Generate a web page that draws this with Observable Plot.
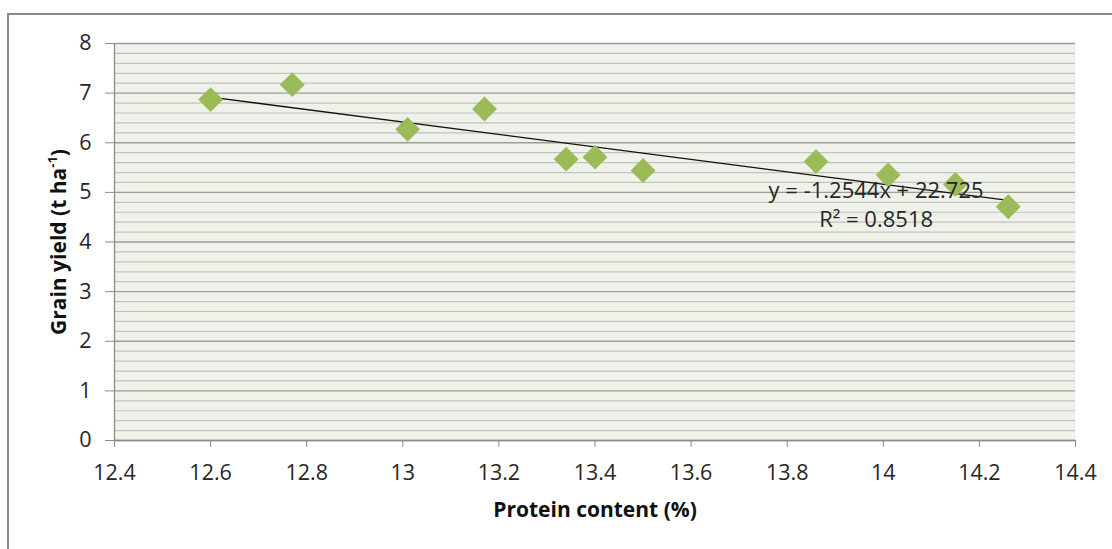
<!DOCTYPE html>
<html><head><meta charset="utf-8">
<script src="https://cdn.jsdelivr.net/npm/d3@7"></script>
<script src="https://cdn.jsdelivr.net/npm/@observablehq/plot@0.6"></script>
<style>
body{margin:0;background:#fff;}
#wrap{position:relative;width:1112px;height:549px;overflow:hidden;}
#chart{position:absolute;left:0;top:0;}
#border{position:absolute;left:7px;top:13px;width:1300px;height:800px;border:2px solid #8a8a8a;pointer-events:none;}
</style></head><body>
<div id="wrap"><div id="chart"></div><div id="border"></div></div>
<script>
// Data
const protein = [12.60, 12.77, 13.01, 13.17, 13.34, 13.40, 13.50, 13.86, 14.01, 14.15, 14.26];
const grainYield = [6.87, 7.17, 6.27, 6.68, 5.67, 5.71, 5.44, 5.62, 5.35, 5.16, 4.71];
const xTicks = [12.4, 12.6, 12.8, 13, 13.2, 13.4, 13.6, 13.8, 14, 14.2, 14.4];
const yTicks = [0, 1, 2, 3, 4, 5, 6, 7, 8];
const yMinorTicks = [0.2,0.4,0.6,0.8,1.2,1.4,1.6,1.8,2.2,2.4,2.6,2.8,3.2,3.4,3.6,3.8,4.2,4.4,4.6,4.8,5.2,5.4,5.6,5.8,6.2,6.4,6.6,6.8,7.2,7.4,7.6,7.8];
const slope = -1.2544, intercept = 22.725;
const eqText = "y = -1.2544x + 22.725";
const r2Text = "R² = 0.8518";
const eqAtX = 13.985;
const xTitle = "Protein content (%)";
const yTitle = "Grain yield (t ha-1)";

const points = protein.map((p, i) => ({x: p, y: grainYield[i]}));
const xMin = d3.min(protein), xMax = d3.max(protein);
const trend = [xMin, xMax].map(x => ({x, y: slope * x + intercept}));
const tickFont = 21.5;

const chart = Plot.plot({
  width: 1112,
  height: 549,
  marginLeft: 114,
  marginRight: 37,
  marginTop: 43,
  marginBottom: 109,
  style: {fontFamily: "'Open Sans', sans-serif", background: "transparent", color: "#262626"},
  x: {domain: [12.4, 14.4]},
  y: {domain: [0, 8]},
  marks: [
    Plot.frame({fill: "#eff2e9", stroke: "none"}),
    Plot.gridY(yMinorTicks, {stroke: "#c2c2c2", strokeOpacity: 1, strokeWidth: 1.2}),
    Plot.gridY(yTicks, {stroke: "#9c9c9c", strokeOpacity: 1, strokeWidth: 1.3}),
    Plot.ruleX([12.4], {stroke: "#8c8c8c", strokeWidth: 1.3}),
    Plot.ruleY([0], {stroke: "#8c8c8c", strokeWidth: 1.3}),
    Plot.axisY(yTicks, {tickSize: 9, stroke: "#8c8c8c", label: null, tickFormat: () => ""}),
    Plot.axisX(xTicks, {tickSize: 7, stroke: "#8c8c8c", label: null, tickFormat: () => ""}),
    Plot.text(yTicks, {y: d => d, frameAnchor: "left", textAnchor: "end", dx: -23, fontSize: tickFont, fill: "#262626", text: d => String(d)}),
    Plot.text(xTicks, {x: d => d, frameAnchor: "bottom", textAnchor: "middle", lineAnchor: "top", dy: 24, fontSize: tickFont, fill: "#262626", text: d => String(d)}),
    Plot.line(trend, {x: "x", y: "y", stroke: "#111", strokeWidth: 1.3}),
    Plot.dot(points, {x: "x", y: "y", symbol: "diamond2", r: 11.2, fill: "#9bbb59", stroke: "none"}),
    Plot.text([eqText + "\n" + r2Text], {x: eqAtX, y: slope * eqAtX + intercept, lineAnchor: "top", dy: -6, lineHeight: 1.32, fontSize: 22, fill: "#262626"}),
    Plot.text([xTitle], {frameAnchor: "bottom", textAnchor: "middle", lineAnchor: "top", dy: 62, fontSize: 21, fontWeight: "bold", fill: "#111"}),
    Plot.text([yTitle], {frameAnchor: "left", textAnchor: "middle", rotate: -90, dx: -55, fontSize: 21, fontWeight: "bold", fill: "#111", className: "ytitle"})
  ]
});
document.getElementById("chart").appendChild(chart);

// superscript "-1" in the y-axis title
const yt = chart.querySelector(".ytitle text");
if (yt) {
  yt.textContent = "";
  const ns = "http://www.w3.org/2000/svg";
  const a = document.createElementNS(ns, "tspan"); a.textContent = "Grain yield (t ha";
  const b = document.createElementNS(ns, "tspan"); b.textContent = "-1"; b.setAttribute("baseline-shift", "super"); b.setAttribute("font-size", "0.62em");
  const c = document.createElementNS(ns, "tspan"); c.textContent = ")";
  yt.append(a, b, c);
}
</script>
</body></html>
